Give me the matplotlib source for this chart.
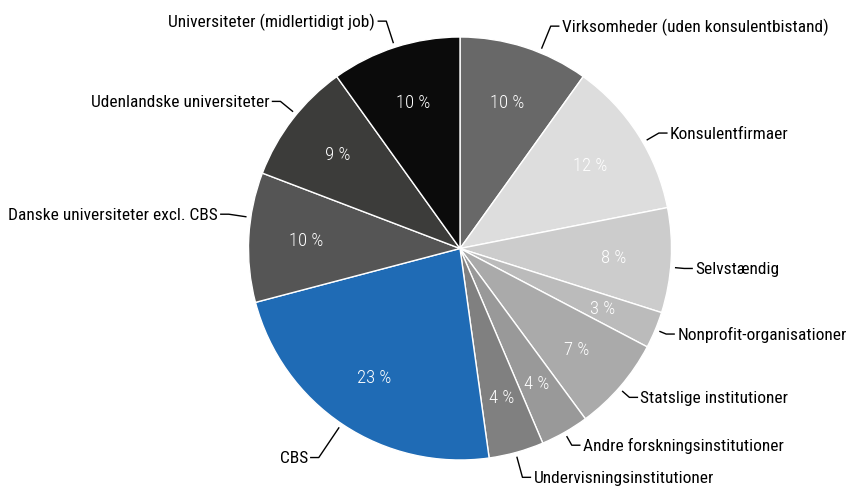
import numpy as np
import matplotlib
matplotlib.use("Agg")
import matplotlib.pyplot as plt
from matplotlib import font_manager

categories = [
    "Virksomheder (uden konsulentbistand)",
    "Konsulentfirmaer",
    "Selvstændig",
    "Nonprofit-organisationer",
    "Statslige institutioner",
    "Andre forskningsinstitutioner",
    "Undervisningsinstitutioner",
    "CBS",
    "Danske universiteter excl. CBS",
    "Udenlandske universiteter",
    "Universiteter (midlertidigt job)",
]
values = [9.9, 12.0, 8.0, 2.8, 7.2, 3.7, 4.2, 23.1, 9.9, 9.3, 9.9]
colors = ["#686868", "#dddddd", "#cccccc", "#bbbbbb", "#aaaaaa", "#999999",
          "#808080", "#1f6bb5", "#555555", "#3c3c3a", "#0b0b0b"]

# label layout nudges (pixels, x along side, y downward) from the slice edge midpoint
label_nudge = [(37, -21), (32, -1), (24, 8), (22, 4), (20, 11), (18, 13),
               (17, 25), (35, 33), (31, -23), (23, -18), (20, -26)]

avail = {f.name for f in font_manager.fontManager.ttflist}
fam = [f for f in ["Roboto Condensed", "Liberation Sans Narrow", "DejaVu Sans"] if f in avail]
plt.rcParams['font.family'] = fam

W, H, DPI = 848, 489, 100
fig = plt.figure(figsize=(W / DPI, H / DPI), dpi=DPI)
ax = fig.add_axes([0, 0, 1, 1])
cx, cy, R = 460, 489 - 249.5, 211.5
FS = 12.5

wedges, _, autotexts = ax.pie(
    values, colors=colors, startangle=90, counterclock=False,
    autopct=lambda p: f"{p:.0f} %", pctdistance=0.73,
    wedgeprops=dict(edgecolor="white", linewidth=1.0),
    textprops=dict(color="white", fontsize=13.5, fontweight="light"),
)
ax.set_xlim(-cx / R, (W - cx) / R)
ax.set_ylim(-cy / R, (H - cy) / R)
ax.axis("off")

px = 1.0 / R
for w, lab, (ndx, ndy) in zip(wedges, categories, label_nudge):
    ang = np.deg2rad((w.theta1 + w.theta2) / 2)
    ex, ey = np.cos(ang), np.sin(ang)
    side = 1 if ex >= 0 else -1
    tx = ex + side * ndx * px
    ty = ey - ndy * px
    end_x = tx - side * 3 * px
    elb_x = end_x - side * 8 * px
    d = np.hypot(elb_x, ty)
    sx, sy = elb_x / d * (1 + 5 * px), ty / d * (1 + 5 * px)
    ax.plot([sx, elb_x, end_x], [sy, ty, ty], color="black", lw=1.0,
            solid_joinstyle="round")
    ax.text(tx, ty, lab, ha="left" if side > 0 else "right",
            va="center", fontsize=FS, color="black", fontweight="normal")

fig.savefig("out.png", dpi=DPI)
